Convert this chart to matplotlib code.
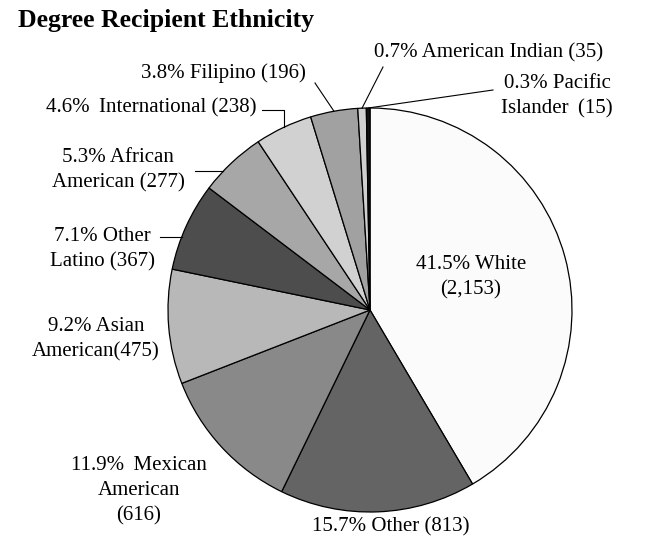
import numpy as np
import matplotlib
matplotlib.use('Agg')
import matplotlib.pyplot as plt

# data
groups = ['White', 'Other', 'Mexican American', 'Asian American', 'Other Latino',
          'African American', 'International', 'Filipino', 'American Indian',
          'Pacific Islander']
counts = [2153, 813, 616, 475, 367, 277, 238, 196, 35, 15]
shares = [41.5, 15.7, 11.9, 9.2, 7.1, 5.3, 4.6, 3.8, 0.7, 0.3]
labels = ['41.5% White\n(2,153)', '15.7% Other (813)', '11.9%\u2009 Mexican\nAmerican\n(616)',
          '9.2% Asian\nAmerican(475)', '7.1% Other\nLatino (367)',
          '5.3% African\nAmerican (277)', '4.6%\u2009 International (238)',
          '3.8% Filipino (196)', '0.7% American Indian (35)',
          '0.3% Pacific\nIslander\u2009 (15)']
colors = ['#fbfbfb', '#646464', '#898989', '#b8b8b8', '#4d4d4d',
          '#a7a7a7', '#d1d1d1', '#a1a1a1', '#d0d0d0', '#111111']

W, H = 646, 537
plt.rcParams['font.family'] = ['Liberation Serif', 'DejaVu Serif']

fig = plt.figure(figsize=(W / 100, H / 100), dpi=100)
ax = fig.add_axes([0, 0, 1, 1])

def py(y):
    # pixel row -> data y
    return H - y

cx, cy, r = 370, py(310), 202
wedges, _ = ax.pie(counts, colors=colors, startangle=90, counterclock=False,
                   center=(cx, cy), radius=r, frame=True,
                   wedgeprops=dict(edgecolor='black', linewidth=0.9))
ax.set_xlim(0, W)
ax.set_ylim(0, H)
ax.set_aspect('equal')
ax.axis('off')

def mid_point(w):
    a = np.deg2rad((w.theta1 + w.theta2) / 2)
    return cx + r * np.cos(a), cy + r * np.sin(a)

def edge_x(y):
    return cx - np.sqrt(r ** 2 - (y - cy) ** 2)

fs = 15
# label positions (pixels): x, y, ha
pos = [(471, 277, 'center'), (391, 527, 'center'), (139, 491, 'center'),
       (96, 339, 'center'), (102, 249, 'center'), (118, 170, 'center'),
       (257, 108, 'right'), (223, 73, 'center'), (603, 53, 'right'),
       (557, 96, 'center')]
for lab, (x, y, ha) in zip(labels, pos):
    ax.text(x, py(y), lab, ha=ha, va='center', fontsize=fs, linespacing=1.45,
            multialignment='center')

lk = dict(color='black', lw=0.8)
# African American, Other Latino: short horizontal leaders
for x0, y0 in [(195, 171), (160, 237)]:
    ax.plot([x0, edge_x(py(y0))], [py(y0), py(y0)], **lk)
# International: elbow leader
mx, my = mid_point(wedges[6])
ax.plot([262, mx, mx], [py(110), py(110), my], **lk)
# Filipino
mx, my = mid_point(wedges[7])
ax.plot([315, mx], [py(83), my], **lk)
# American Indian
mx, my = mid_point(wedges[8])
ax.plot([383, mx], [py(67), my], **lk)
# Pacific Islander
mx, my = mid_point(wedges[9])
ax.plot([493, mx], [py(90), my], **lk)

ax.text(18, py(20), 'Degree Recipient Ethnicity', ha='left', va='center',
        fontsize=18.5, fontweight='bold')

fig.savefig('out.png', dpi=100)
